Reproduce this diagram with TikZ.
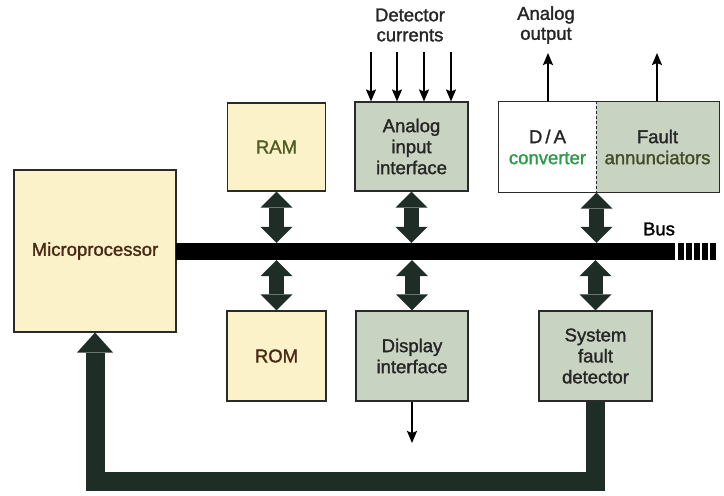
\documentclass[tikz,border=0pt]{standalone}
\usepackage{fontspec}
\setmainfont{Liberation Sans}[FakeBold=1.5]
\usetikzlibrary{arrows.meta,calc}

\definecolor{paleyellow}{HTML}{FBF2CA}
\definecolor{sage}{HTML}{C9D3C1}
\definecolor{boxline}{HTML}{2A2A2A}
\definecolor{busgreen}{HTML}{1E2E27}
\definecolor{brownink}{HTML}{4A2A16}
\definecolor{oliveink}{HTML}{4F5E26}
\definecolor{greenink}{HTML}{2F9A48}
\definecolor{darkink}{HTML}{262626}

\tikzset{
  blk/.style={draw=boxline, line width=1.1pt, inner sep=0pt, align=center,
    font=\fontsize{18.5}{21}\selectfont},
  yellowblk/.style={blk, fill=paleyellow},
  sageblk/.style={blk, fill=sage, text=darkink},
  caption/.style={inner sep=0pt, align=center, text=darkink,
    font=\fontsize{18.5}{20}\selectfont},
  busbar/.style={fill=black, draw=none, inner sep=0pt},
  twoway/.style={draw=busgreen, line width=15pt,
    arrows={Triangle[width=32pt,length=16pt,line width=0pt]-Triangle[width=32pt,length=16pt,line width=0pt]}},
  feedback/.style={draw=busgreen, line width=19pt, line join=miter,
    arrows={-Triangle[width=36pt,length=20pt,line width=0pt]}},
  signal/.style={draw=black, line width=1.6pt,
    arrows={-Stealth[width=10pt,length=12pt,inset=2pt]}},
}

\begin{document}
\begin{tikzpicture}[x=1pt,y=-1pt]
  \useasboundingbox (0,0) rectangle (724,496);

  % processor, memories and interfaces
  \node[yellowblk, minimum width=162pt, minimum height=162pt, text=brownink]
    (micro) at (95,251) {Microprocessor};
  \node[yellowblk, minimum width=98pt, minimum height=88pt, text=oliveink]
    (ram) at (276.5,147) {RAM};
  \node[yellowblk, minimum width=99pt, minimum height=90pt, text=brownink]
    (rom) at (276.5,356) {ROM};
  \node[sageblk, minimum width=113pt, minimum height=89pt]
    (aii) at (411.5,146.5) {Analog\\input\\interface};
  \node[sageblk, minimum width=112pt, minimum height=90pt]
    (disp) at (412,356) {Display\\interface};
  \node[sageblk, minimum width=113pt, minimum height=90pt]
    (sfd) at (595.5,356) {System\\fault\\detector};

  % output unit split into two halves
  \node[blk, draw=none, fill=white, minimum width=97pt, minimum height=90pt]
    (da) at (547.5,147) {\textcolor{darkink}{D\,/\,A}\\\textcolor{greenink}{converter}};
  \node[blk, draw=none, fill=sage, minimum width=123pt, minimum height=90pt]
    (fa) at (657.5,147) {\textcolor{darkink}{Fault}\\\textcolor{oliveink!70!darkink}{annunciators}};
  \draw[boxline, line width=1.1pt] (da.north west) rectangle (fa.south east);
  \draw[boxline, line width=1.1pt, dash pattern=on 3pt off 2pt]
    (da.north east) -- (da.south east);

  % bus
  \node[busbar, minimum width=499pt, minimum height=17pt] (bus) at (425.5,251.5) {};
  \coordinate (busend) at (716,251.5);
  \draw[black, line width=17pt, dash pattern=on 5.5pt off 2.5pt]
    ([xshift=3pt]bus.east) -- (busend);
  \node[caption, text=black] (buslabel) at (659,229) {Bus};

  % two-way links to the bus
  \draw[twoway] (ram.south) -- (ram.south |- bus.north);
  \draw[twoway] (aii.south) -- (aii.south |- bus.north);
  \draw[twoway] (da.south east) -- (da.south east |- bus.north);
  \draw[twoway] (rom.north) -- (rom.north |- bus.south);
  \draw[twoway] (disp.north) -- (disp.north |- bus.south);
  \draw[twoway] (sfd.north) -- (sfd.north |- bus.south);

  % fault detector back to the processor
  \coordinate (loop) at (0,481);
  \draw[feedback] (sfd.south) -- (sfd.south |- loop) -- (micro.south |- loop) -- (micro.south);

  % detector current inputs
  \node[caption] (detlabel) at (410,25) {Detector\\currents};
  \foreach \i/\x in {1/371,2/397,3/424,4/451}{
    \coordinate (d\i) at (\x,52);
    \draw[signal] (d\i) -- (d\i |- aii.north);
  }

  % outputs
  \node[caption] (anlabel) at (546,25) {Analog\\output};
  \coordinate (aout) at (548,53);
  \draw[signal] (aout |- da.north) -- (aout);
  \coordinate (fout) at (657,53);
  \draw[signal] (fout |- fa.north) -- (fout);
  \coordinate (dout) at (412,443);
  \draw[signal] (disp.south) -- (dout);
\end{tikzpicture}
\end{document}
